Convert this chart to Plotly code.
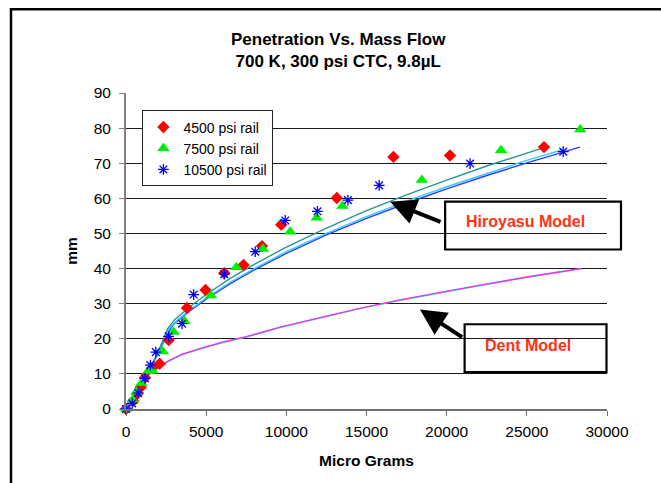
import plotly.graph_objects as go

# ---- measured spray tip penetration (mm) vs. injected mass (micro grams) ----
rail_4500_mass = [0, 450, 710, 920, 1180, 1630, 2100, 2660, 3800, 4960, 6130, 7330,
                  8480, 9680, 13150, 16680, 20210, 26070]
rail_4500_pen = [0, 2.3, 4.3, 6.2, 8.9, 11.7, 12.9, 19.6, 28.8, 33.9, 38.7, 41.0,
                 46.4, 52.5, 60.1, 71.8, 72.2, 74.6]

rail_7500_mass = [0, 420, 660, 970, 1380, 1660, 2290, 2970, 3655, 5300, 6880, 8540,
                  10240, 11900, 13500, 18450, 23390, 28330]
rail_7500_pen = [0, 2.6, 4.9, 7.4, 10.8, 10.9, 16.4, 21.9, 25.0, 32.3, 40.4, 45.6,
                 50.5, 54.5, 57.8, 65.2, 73.7, 79.6]

rail_10500_mass = [0, 390, 760, 1180, 1520, 1860, 2660, 3495, 4220, 6130, 8060, 9930,
                   11940, 13840, 15790, 21460, 27270]
rail_10500_pen = [0, 1.6, 4.6, 8.7, 12.5, 16.2, 20.7, 24.3, 32.6, 38.4, 44.8, 53.7,
                  56.3, 59.5, 63.7, 69.9, 73.3]

# ---- model predictions ----
hiro_a_mass = [0, 700, 1400, 2000, 2600, 3000, 4000, 5000, 6500, 8000, 10000, 12500,
               15000, 17500, 20000, 22500, 25820]
hiro_a_pen = [0, 5.0, 10.6, 16.2, 22.9, 25.3, 29.2, 32.6, 37.2, 41.2, 46.1, 51.5,
              56.5, 61.0, 65.2, 69.2, 74.1]

hiro_b_mass = [0, 700, 1400, 2000, 2650, 3000, 4000, 5000, 6500, 8000, 10000, 12500,
               15000, 17500, 20000, 22500, 25000, 27270]
hiro_b_pen = [0, 4.9, 10.4, 15.9, 22.6, 24.5, 28.3, 31.6, 36.1, 40.0, 44.8, 50.0,
              54.8, 59.2, 63.3, 67.1, 70.8, 73.9]

hiro_c_mass = [0, 700, 1400, 2000, 2700, 3000, 4000, 5000, 6500, 8000, 10000, 12500,
               15000, 17500, 20000, 22500, 25000, 28310]
hiro_c_pen = [0, 4.8, 10.2, 15.6, 22.3, 24.3, 28.0, 31.3, 35.7, 39.6, 44.3, 49.6,
              54.3, 58.6, 62.7, 66.5, 70.1, 74.6]

dent_mass = [0, 700, 1300, 2000, 2600, 3500, 4600, 6000, 7500, 9600, 12000, 14500,
             17000, 19500, 22000, 25000, 28370]
dent_pen_a = [0, 4.9, 9.3, 11.8, 13.5, 15.5, 17.1, 18.9, 20.5, 23.2, 25.9, 28.5,
              30.9, 33.1, 35.1, 37.5, 39.9]
dent_pen_b = [0, 5.0, 9.4, 11.9, 13.6, 15.6, 17.2, 19.0, 20.6, 23.3, 26.0, 28.6,
              31.0, 33.2, 35.2, 37.6, 40.0]

x_ticks = [0, 5000, 10000, 15000, 20000, 25000, 30000]
y_ticks = [0, 10, 20, 30, 40, 50, 60, 70, 80, 90]

FONT = "Liberation Sans, Arial, sans-serif"
W_FIG, H_FIG = 661, 483
# plot area in pixels
L, R, T, B = 125.6, 607.0, 92.5, 409.5


def px_x(p):
    return (p - L) / (R - L)


def px_y(p):
    return (B - p) / (B - T)


fig = go.Figure()

line_traces = [
    (hiro_c_mass, hiro_c_pen, "#2b3cff"),
    (hiro_b_mass, hiro_b_pen, "#33ccff"),
    (hiro_a_mass, hiro_a_pen, "#2a9494"),
    (dent_mass, dent_pen_a, "#22dddd"),
    (dent_mass, dent_pen_b, "#ee33ee"),
]
for mx, py, col in line_traces:
    fig.add_trace(go.Scatter(x=mx, y=py, mode="lines", showlegend=False,
                             line=dict(color=col, width=1.4), hoverinfo="skip"))

fig.add_trace(go.Scatter(
    x=rail_4500_mass, y=rail_4500_pen, mode="markers", name="4500 psi rail",
    marker=dict(symbol="diamond", size=9.5, color="#ff0000"), cliponaxis=False))
fig.add_trace(go.Scatter(
    x=rail_7500_mass, y=rail_7500_pen, mode="markers", name="7500 psi rail",
    marker=dict(symbol="triangle-up", size=11, color="#00ee00"), cliponaxis=False))
fig.add_trace(go.Scatter(
    x=rail_10500_mass, y=rail_10500_pen, mode="markers", name="10500 psi rail",
    marker=dict(symbol="asterisk-open", size=9, color="#0000ff",
                line=dict(color="#0000ff", width=1.3)), cliponaxis=False))

shapes = [
    # outer chart frame
    dict(type="rect", xref="paper", yref="paper",
         x0=px_x(10.5), x1=px_x(680), y0=px_y(500), y1=px_y(8.5),
         line=dict(color="black", width=2.5)),
    # label boxes
    dict(type="rect", xref="paper", yref="paper",
         x0=px_x(445), x1=px_x(621), y0=px_y(249.5), y1=px_y(201.5),
         line=dict(color="black", width=2.2)),
    dict(type="rect", xref="paper", yref="paper",
         x0=px_x(464.5), x1=px_x(606.5), y0=px_y(372.5), y1=px_y(324.5),
         line=dict(color="black", width=2.2)),
]

annotations = [
    dict(xref="paper", yref="paper", x=px_x(390), y=px_y(201.7), text="",
         showarrow=True, ax=51.8, ay=20.6, arrowhead=2, arrowsize=1.3,
         arrowwidth=4, arrowcolor="black", standoff=0),
    dict(xref="paper", yref="paper", x=px_x(419.8), y=px_y(309.7), text="",
         showarrow=True, ax=43.7, ay=28.6, arrowhead=2, arrowsize=1.3,
         arrowwidth=4, arrowcolor="black", standoff=0),
    dict(xref="paper", yref="paper", x=px_x(525), y=px_y(221.5),
         xanchor="center", yanchor="middle",
         text="<b>Hiroyasu Model</b>", showarrow=False,
         font=dict(family=FONT, size=16, color="#ff3311")),
    dict(xref="paper", yref="paper", x=px_x(527.7), y=px_y(345.7),
         xanchor="center", yanchor="middle",
         text="<b>Dent Model</b>", showarrow=False,
         font=dict(family=FONT, size=16, color="#ff3311")),
]

fig.update_layout(
    width=W_FIG, height=H_FIG,
    margin=dict(l=L, r=W_FIG - R, t=T, b=H_FIG - B, pad=0),
    paper_bgcolor="white", plot_bgcolor="white",
    font=dict(family=FONT, color="black"),
    title=dict(text="<b>Penetration Vs. Mass Flow<br>700 K, 300 psi CTC, 9.8µL</b>",
               x=px_x(338), xref="paper", xanchor="center",
               y=1 - 44.5 / H_FIG, yref="container", yanchor="middle",
               font=dict(family=FONT, size=17, color="black")),
    xaxis=dict(range=[0, 30000], tickvals=x_ticks, ticktext=[str(v) for v in x_ticks],
               showgrid=False, zeroline=False, showline=True,
               linecolor="#707070", linewidth=1.5,
               ticks="outside", ticklen=5, tickcolor="#707070", tickwidth=1.2,
               ticklabelstandoff=3,
               tickfont=dict(family=FONT, size=15.5),
               title=dict(text="<b>Micro Grams</b>", standoff=16,
                          font=dict(family=FONT, size=15.5))),
    yaxis=dict(range=[0, 90], tickvals=y_ticks, ticktext=[str(v) for v in y_ticks],
               showgrid=True, gridcolor="#1c1c1c", gridwidth=1, zeroline=False,
               showline=True, linecolor="#808080", linewidth=2,
               ticks="outside", ticklen=5, tickcolor="#808080", tickwidth=1.2,
               ticklabelstandoff=5,
               tickfont=dict(family=FONT, size=15.5),
               title=dict(text="<b>mm</b>", standoff=12,
                          font=dict(family=FONT, size=15.5))),
    legend=dict(x=px_x(142), y=px_y(110), xanchor="left", yanchor="top",
                bgcolor="white", bordercolor="#222", borderwidth=1,
                font=dict(family=FONT, size=14), itemwidth=30,
                tracegroupgap=0),
    shapes=shapes,
    annotations=annotations,
    showlegend=True,
)

fig.write_html("out.html")
